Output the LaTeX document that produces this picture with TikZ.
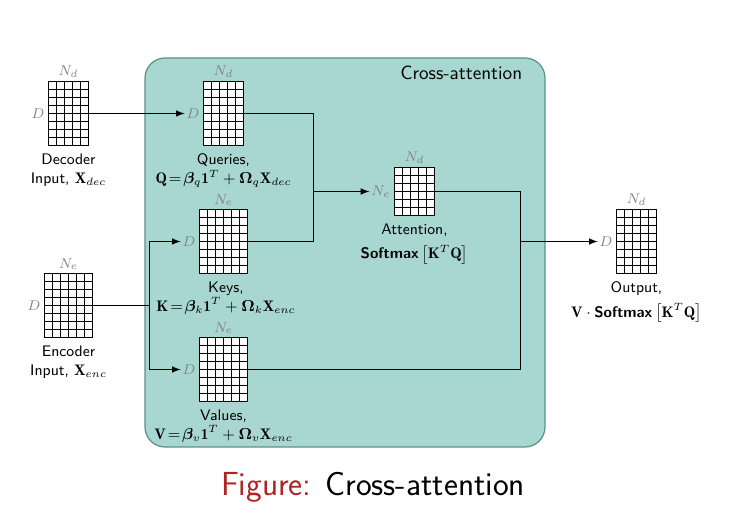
\documentclass[tikz,border=0pt]{standalone}
\usepackage{amsmath,amsfonts,amssymb}
\usepackage{bm}
\usepackage{fontspec}
\usepackage{tikz}
\usetikzlibrary{positioning}
\renewcommand{\familydefault}{\sfdefault}

\definecolor{boxfill}{RGB}{168,215,210}
\definecolor{boxline}{RGB}{90,145,138}
\definecolor{figred}{RGB}{178,34,34}

\newcommand{\cellsz}{0.16}
% grid of cells: name, position, columns, rows
\newcommand{\datagrid}[4]{%
  \node[grid_style, minimum width=#3*\cellsz*1cm, minimum height=#4*\cellsz*1cm] (#1) at (#2) {};
  \pgfmathtruncatemacro{\lastcol}{#3-1}
  \pgfmathtruncatemacro{\lastrow}{#4-1}
  \foreach \c in {1,...,\lastcol}
    \draw[grid_line] ([xshift=\c*\cellsz*1cm]#1.south west) -- ([xshift=\c*\cellsz*1cm]#1.north west);
  \foreach \r in {1,...,\lastrow}
    \draw[grid_line] ([yshift=\r*\cellsz*1cm]#1.south west) -- ([yshift=\r*\cellsz*1cm]#1.south east);
}

\begin{document}
\begin{tikzpicture}[node distance=0.1cm,
		grid_style/.style={draw=black,fill=white,line width=0.8pt,inner sep=0pt,outer sep=0pt},
		grid_line/.style={draw=black,line width=0.8pt},
		dim_style/.style={inner sep=1pt,text=black!50,font=\fontsize{8.5}{9}\selectfont},
		text_style/.style={align=center,inner sep=1pt,font=\fontsize{8.7}{11}\selectfont},
		box_style/.style={draw=boxline,fill=boxfill,line width=0.7pt,rounded corners=0.4cm},
		edge_style/.style={draw=black,line width=0.7pt,>=latex}]

		\useasboundingbox (0,0) rectangle (14.84,10.48);

		\draw[box_style] (2.9,1.54) rectangle (10.9,9.32);
		\node[anchor=east,inner sep=0pt,font=\fontsize{10.9}{12}\selectfont] (title) at (10.45,9.02) {Cross-attention};

		\datagrid{dec}{1.37,8.21}{5}{8}
		\datagrid{enc}{1.37,4.37}{6}{8}
		\datagrid{q}{4.47,8.21}{5}{8}
		\datagrid{k}{4.47,5.65}{6}{8}
		\datagrid{v}{4.47,3.09}{6}{8}
		\datagrid{att}{8.29,6.65}{5}{6}
		\datagrid{out}{12.73,5.65}{5}{8}

		\node[dim_style, above=0.03cm of dec] (dec_n) {$N_d$};
		\node[dim_style, left=0.04cm of dec] (dec_d) {$D$};
		\node[dim_style, above=0.03cm of enc] (enc_n) {$N_e$};
		\node[dim_style, left=0.04cm of enc] (enc_d) {$D$};
		\node[dim_style, above=0.03cm of q] (q_n) {$N_d$};
		\node[dim_style, left=0.04cm of q] (q_d) {$D$};
		\node[dim_style, above=0.03cm of k] (k_n) {$N_e$};
		\node[dim_style, left=0.04cm of k] (k_d) {$D$};
		\node[dim_style, above=0.03cm of v] (v_n) {$N_e$};
		\node[dim_style, left=0.04cm of v] (v_d) {$D$};
		\node[dim_style, above=0.03cm of att] (att_n) {$N_d$};
		\node[dim_style, left=0.04cm of att] (att_d) {$N_e$};
		\node[dim_style, above=0.03cm of out] (out_n) {$N_d$};
		\node[dim_style, left=0.04cm of out] (out_d) {$D$};

		\node[text_style, below=0.12cm of dec] (dec_t) {Decoder\\Input, $\mathbf{X}_{dec}$};
		\node[text_style, below=0.12cm of enc] (enc_t) {Encoder\\Input, $\mathbf{X}_{enc}$};
		\node[text_style, below=0.12cm of q] (q_t) {Queries,\\$\mathbf{Q}\!=\!\bm{\beta}_q\mathbf{1}^T+\bm{\Omega}_q\mathbf{X}_{dec}$};
		\node[text_style, below=0.12cm of k, xshift=0.05cm] (k_t) {Keys,\\$\mathbf{K}\!=\!\bm{\beta}_k\mathbf{1}^T+\bm{\Omega}_k\mathbf{X}_{enc}$};
		\node[text_style, below=0.12cm of v] (v_t) {Values,\\$\mathbf{V}\!=\!\bm{\beta}_v\mathbf{1}^T+\bm{\Omega}_v\mathbf{X}_{enc}$};
		\node[text_style, below=0.12cm of att] (att_t) {Attention,\\[3pt]\textbf{Softmax}$\,\bigl[\mathbf{K}^T\mathbf{Q}\bigr]$};
		\node[text_style, below=0.12cm of out] (out_t) {Output,\\[3pt]$\mathbf{V}\cdot\text{\textbf{Softmax}}\,\bigl[\mathbf{K}^T\mathbf{Q}\bigr]$};

		\coordinate (j_enc) at (2.99,4.37);
		\coordinate (j_qk) at (6.27,6.65);
		\coordinate (j_av) at (10.41,5.65);

		\draw[edge_style,->] (dec) -- (q_d);
		\draw[edge_style] (enc.east) -- (j_enc);
		\draw[edge_style,->] (j_enc) |- (k_d);
		\draw[edge_style,->] (j_enc) |- (v_d);
		\draw[edge_style] (q.east) -| (j_qk);
		\draw[edge_style] (k.east) -| (j_qk);
		\draw[edge_style,->] (j_qk) -- (att_d);
		\draw[edge_style] (att.east) -| (j_av);
		\draw[edge_style] (v.east) -| (j_av);
		\draw[edge_style,->] (j_av) -- (out_d);

		\node[font=\fontsize{19}{22}\selectfont] (caption) at (7.46,0.74) {\textcolor{figred}{Figure:} Cross-attention};
		\end{tikzpicture}
\end{document}
